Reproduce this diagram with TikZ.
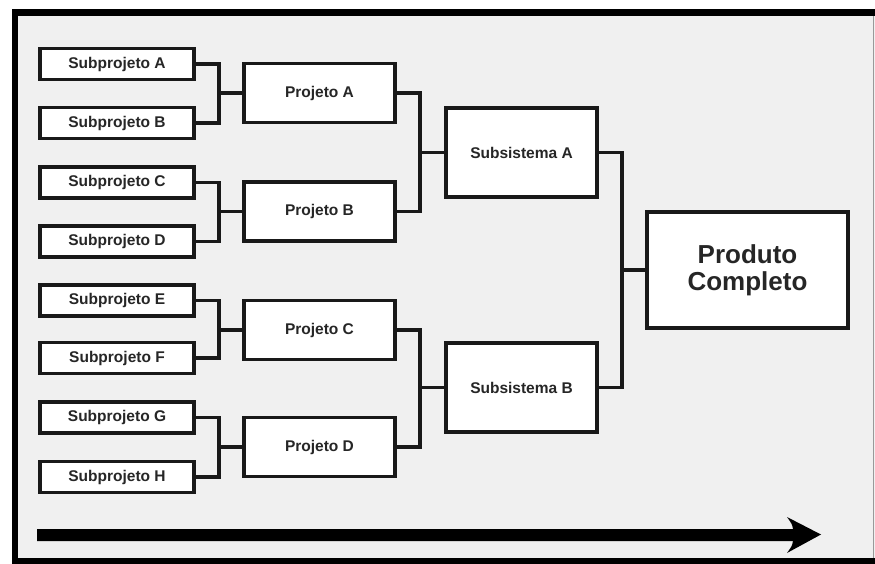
\documentclass[tikz,border=0pt]{standalone}
\usepackage{fontspec}
\setmainfont{Liberation Sans}
\begin{document}
\begin{tikzpicture}[x=1pt,y=-1pt,
  box/.style={draw=black!90, fill=white, line width=3.1pt, inner sep=0pt, text=black!85, font=\bfseries\fontsize{15.5}{18}\selectfont, align=center},
  subbox/.style={box, minimum width=154pt, minimum height=31pt},
  projbox/.style={box, minimum width=151pt, minimum height=59pt},
  sysbox/.style={box, minimum width=151pt, minimum height=89pt},
  prodbox/.style={box, minimum width=201pt, minimum height=116pt, font=\bfseries\fontsize{26}{27}\selectfont},
  link/.style={draw=black!90, line width=3.1pt}]
\useasboundingbox (0,0) rectangle (875,564);
% frame
\fill[black!6] (15,12) rectangle (880,561);
\draw[black!40, line width=1pt] (873,12) -- (873,561);
\draw[black, line width=6.5pt, line cap=rect] (900,12.5) -- (15,12.5) -- (15,561) -- (900,561);
% subprojects
\node[subbox] (sa) at (117,64) {Subprojeto A};
\node[subbox] (sb) at (117,123) {Subprojeto B};
\node[subbox] (sc) at (117,182.5) {Subprojeto C};
\node[subbox] (sd) at (117,241.5) {Subprojeto D};
\node[subbox] (se) at (117,300.5) {Subprojeto E};
\node[subbox] (sf) at (117,358) {Subprojeto F};
\node[subbox] (sg) at (117,417.5) {Subprojeto G};
\node[subbox] (sh) at (117,477) {Subprojeto H};
% projects
\node[projbox] (pa) at (319.5,93) {Projeto A};
\node[projbox] (pb) at (319.5,211.5) {Projeto B};
\node[projbox] (pc) at (319.5,330) {Projeto C};
\node[projbox] (pd) at (319.5,447) {Projeto D};
% subsystems
\node[sysbox] (ya) at (521.5,152.5) {Subsistema A};
\node[sysbox] (yb) at (521.5,387.5) {Subsistema B};
% product
\node[prodbox] (pr) at (747.5,270) {Produto\\Completo};
% junctions
\coordinate (j1) at (219,93);
\coordinate (j2) at (219,211.5);
\coordinate (j3) at (219,330);
\coordinate (j4) at (219,447);
\coordinate (k1) at (420,152.5);
\coordinate (k2) at (420,387.5);
\coordinate (m1) at (622,270);
% connectors
\draw[link] (sa.east) -| (j1) |- (sb.east);
\draw[link] (j1) -- (pa.west);
\draw[link] (sc.east) -| (j2) |- (sd.east);
\draw[link] (j2) -- (pb.west);
\draw[link] (se.east) -| (j3) |- (sf.east);
\draw[link] (j3) -- (pc.west);
\draw[link] (sg.east) -| (j4) |- (sh.east);
\draw[link] (j4) -- (pd.west);
\draw[link] (pa.east) -| (k1) |- (pb.east);
\draw[link] (k1) -- (ya.west);
\draw[link] (pc.east) -| (k2) |- (pd.east);
\draw[link] (k2) -- (yb.west);
\draw[link] (ya.east) -| (m1) |- (yb.east);
\draw[link] (m1) -- (pr.west);
% time arrow
\fill[black] (37,529) -- (793,529) .. controls (792,524) .. (787,517) -- (821,534.5) -- (787,553) .. controls (792,546) .. (793,541) -- (37,541) -- cycle;
\end{tikzpicture}
\end{document}
